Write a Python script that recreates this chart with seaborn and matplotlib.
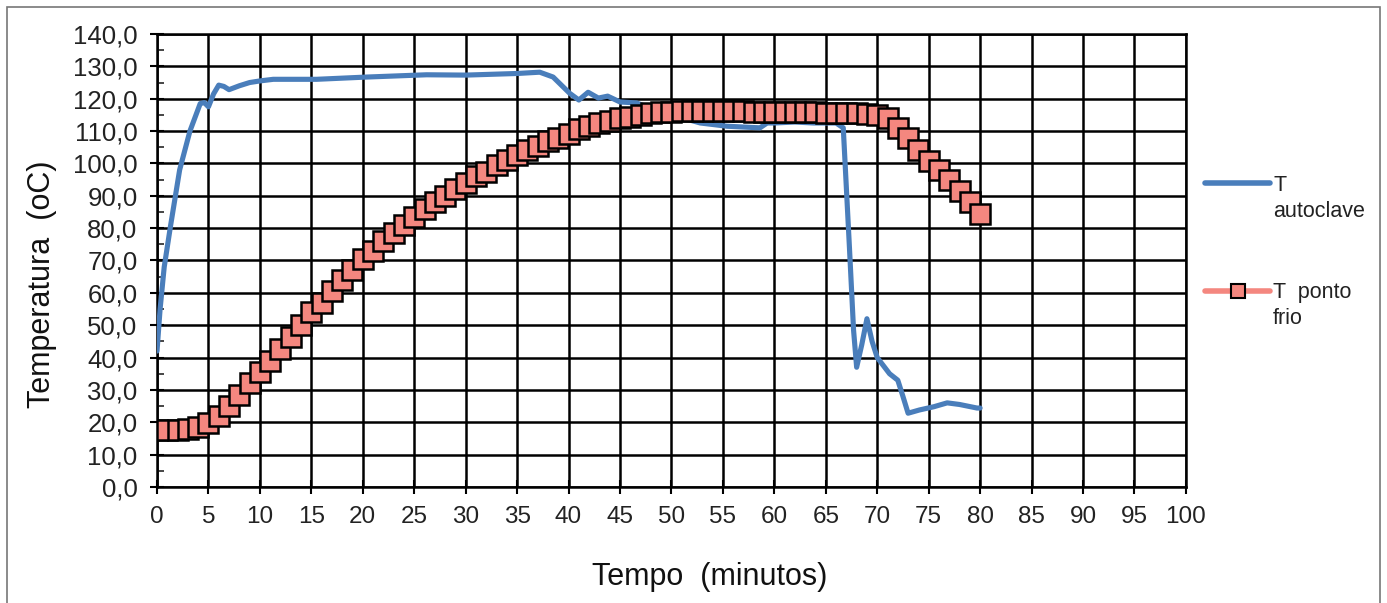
import numpy as np
import pandas as pd
import matplotlib
matplotlib.use("Agg")
import matplotlib.pyplot as plt
from matplotlib.lines import Line2D
from matplotlib.patches import Rectangle
from matplotlib.ticker import MultipleLocator, FuncFormatter
import seaborn as sns

# --- data ---
autoclave_t = [0, 0.3, 0.7, 1.3, 2.2, 3.2, 4.2, 4.6, 5.0, 5.5, 6.0, 6.5, 7.0, 8.0, 9.0,
               10.0, 11.3, 15.5, 20.4, 26.2, 30.0, 35.0, 37.2, 38.5, 40.1, 41.0, 41.9,
               42.9, 43.8, 45.0, 46.6, 48.0, 50.0, 52.8, 55.4, 58.6, 59.3, 60.0, 62.0,
               63.8, 66.0, 66.7, 67.3, 67.7, 68.0, 68.5, 69.0, 69.5, 70.0, 71.2, 72.0,
               72.5, 73.0, 74.1, 75.5, 76.8, 78.0, 79.7, 80.0]
autoclave_T = [42.0, 55.0, 68.0, 80.4, 98.0, 110.0, 118.5, 118.8, 117.5, 121.5, 124.2,
               123.8, 122.8, 124.0, 125.0, 125.5, 126.0, 126.0, 126.7, 127.4, 127.3,
               127.8, 128.2, 126.7, 121.7, 119.6, 122.0, 120.2, 120.8, 119.0, 118.7,
               117.0, 115.0, 112.5, 111.5, 111.0, 112.5, 112.5, 112.8, 112.5, 112.5,
               111.0, 74.0, 48.5, 37.0, 44.0, 52.0, 45.0, 40.0, 35.0, 33.0, 28.0, 22.8,
               23.8, 24.8, 26.0, 25.5, 24.4, 24.4]

frio_t = list(range(0, 81))
frio_T = [17.5, 17.5, 17.5, 17.8, 18.5, 19.8, 22.0, 25.0, 28.5, 32.0,
          35.5, 39.0, 42.5, 46.5, 50.0, 54.0, 57.0, 60.5, 64.0, 67.0,
          70.5, 73.0, 76.0, 78.5, 81.0, 83.5, 86.0, 88.0, 90.0, 92.0,
          94.0, 96.0, 97.5, 99.5, 101.0, 102.5, 104.0, 105.5, 107.0, 108.0,
          109.2, 110.5, 111.5, 112.5, 113.2, 114.0, 114.5, 115.0, 115.5, 116.0,
          116.0, 116.2, 116.2, 116.2, 116.2, 116.2, 116.2, 116.2, 116.0, 116.0,
          116.0, 116.0, 116.0, 116.0, 115.8, 115.6, 115.5, 115.5, 115.5, 115.3,
          115.0, 114.0, 111.0, 107.8, 104.0, 100.8, 98.0, 95.0, 91.5, 88.0, 84.4]

legend_first = ["T", "T  ponto"]
legend_second = ["autoclave", "frio"]

BLUE = "#4a7ebb"
SALMON = "#f4877f"
TEXT = "#222222"

sns.set_style("white")
plt.rcParams["font.family"] = ["Liberation Sans", "DejaVu Sans"]

df_auto = pd.DataFrame({"Tempo": autoclave_t, "Temp": autoclave_T})
df_frio = pd.DataFrame({"Tempo": frio_t, "Temp": frio_T})

fig = plt.figure(figsize=(13.87, 6.03), dpi=100)
ax = fig.add_axes([0.1132, 0.1924, 0.7418, 0.7512])

sns.lineplot(data=df_auto, x="Tempo", y="Temp", ax=ax, color=BLUE,
             linewidth=3.7, zorder=3, estimator=None, sort=False)
sns.lineplot(data=df_frio, x="Tempo", y="Temp", ax=ax, color=SALMON,
             linewidth=3.0, marker="s", markersize=15, markerfacecolor=SALMON,
             markeredgecolor="black", markeredgewidth=1.8, zorder=4,
             estimator=None)

ax.set_xlim(0, 100)
ax.set_ylim(0, 140)
ax.xaxis.set_major_locator(MultipleLocator(5))
ax.yaxis.set_major_locator(MultipleLocator(10))
ax.yaxis.set_minor_locator(MultipleLocator(5))
ax.yaxis.set_major_formatter(FuncFormatter(lambda v, p: f"{v:.1f}".replace(".", ",")))
ax.grid(True, which="major", color="black", linewidth=1.8)
ax.set_axisbelow(True)
for s in ax.spines.values():
    s.set_color("black")
    s.set_linewidth(1.8)
ax.tick_params(axis="both", which="major", direction="inout", length=10, width=1.5,
               labelsize=18.5, colors="black", labelcolor=TEXT,
               left=True, bottom=True)
ax.tick_params(axis="y", which="major", pad=9)
ax.tick_params(axis="x", which="major", pad=9)
ax.tick_params(axis="x", labelsize=17.5)
ax.tick_params(axis="y", which="minor", direction="in", length=5, width=1.2, left=True)

ax.set_xlabel("Tempo  (minutos)", fontsize=22, color="#111111")
ax.xaxis.set_label_coords(0.537, -0.166)
ax.set_ylabel("Temperatura  (oC)", fontsize=22, color="#111111")
ax.yaxis.set_label_coords(-0.0975, 0.448)

handles = [
    Line2D([], [], color=BLUE, linewidth=4, solid_capstyle="round"),
    Line2D([], [], color=SALMON, linewidth=4, solid_capstyle="round", marker="s",
           markersize=10, markerfacecolor=SALMON, markeredgecolor="black",
           markeredgewidth=1.5),
]
leg = fig.legend(handles, legend_first, loc="upper left",
                 bbox_to_anchor=(0.855, 0.742), frameon=False, fontsize=15.5,
                 handlelength=3.0, handletextpad=0.15, labelspacing=4.0)
for t in leg.get_texts():
    t.set_color(TEXT)

# second line of each legend label, placed under the first one
fig.canvas.draw()
inv = fig.transFigure.inverted()
for t, extra in zip(leg.get_texts(), legend_second):
    bb = t.get_window_extent()
    x0, y0 = inv.transform((bb.x0, bb.y0))
    fig.text(x0, y0 - 0.008, extra, fontsize=15.5, color=TEXT, ha="left", va="top")

fig.add_artist(Rectangle((0.005, -0.02), 0.99, 1.008, transform=fig.transFigure,
                         fill=False, edgecolor="#777777", linewidth=1.2))

fig.savefig("out.png", dpi=100)
